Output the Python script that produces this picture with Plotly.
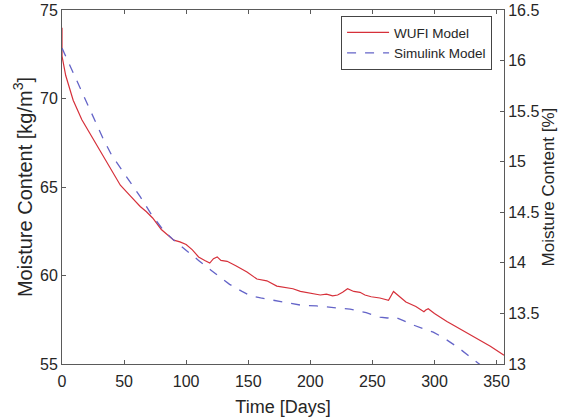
import plotly.graph_objects as go

# WUFI model (kg/m3)
wufi_days = [0, 0.01, 3, 9, 16, 24, 32, 40, 47, 55, 63, 68, 73, 80, 85, 90, 95, 100, 105, 110,
             115, 119, 122, 125, 128, 133, 140, 149, 157, 165, 173, 180, 186, 192, 200, 208,
             213, 218, 222, 226, 230, 235, 240, 244, 249, 256, 263, 265, 267, 272, 277, 285,
             291.5, 293, 295, 300, 305, 310, 315, 320, 328, 336.5, 345, 356]
wufi_vals = [74, 72.4, 71.3, 69.9, 68.8, 67.84, 66.9, 66.0, 65.1, 64.5, 63.9, 63.6, 63.25, 62.6,
             62.3, 62.0, 61.9, 61.75, 61.45, 61.05, 60.85, 60.7, 60.95, 61.05, 60.85, 60.8,
             60.55, 60.2, 59.8, 59.7, 59.4, 59.3, 59.25, 59.1, 59.0, 58.9, 58.95, 58.85, 58.9,
             59.05, 59.25, 59.1, 59.05, 58.9, 58.8, 58.73, 58.6, 58.85, 59.1, 58.8, 58.5, 58.25,
             57.95, 58.05, 58.12, 57.85, 57.6, 57.4, 57.2, 57.0, 56.7, 56.35, 56.0, 55.5]

# Simulink model (kg/m3)
sim_days = [0, 8, 17, 25, 33, 40, 47, 55, 63, 72, 81.5, 90, 97.6, 103, 110, 120, 128, 135, 145,
            152, 160, 170, 180, 192, 205, 218, 232, 245, 256, 262, 268, 275, 283, 291, 299, 308,
            318.5, 327, 334.5, 345, 356]
sim_vals = [72.85, 71.6, 70.2, 68.9, 67.75, 66.8, 66.1, 65.25, 64.45, 63.45, 62.57, 62.0, 61.55,
            61.27, 60.85, 60.3, 59.85, 59.5, 59.1, 58.85, 58.73, 58.6, 58.45, 58.33, 58.28, 58.2,
            58.1, 57.9, 57.65, 57.6, 57.65, 57.45, 57.2, 57.0, 56.8, 56.45, 55.96, 55.5, 55.1,
            54.5, 53.9]

x_ticks = [0, 50, 100, 150, 200, 250, 300, 350]
left_ticks = [55, 60, 65, 70, 75]
right_ticks = [13, 13.5, 14, 14.5, 15, 15.5, 16, 16.5]

FONT = "Liberation Sans, Arial, sans-serif"
AX = "#5a5a5a"
TXT = "#262626"

fig = go.Figure()
fig.add_trace(go.Scatter(x=wufi_days, y=wufi_vals, mode="lines", name="WUFI Model",
                         line=dict(color="#d6303a", width=1.2)))
fig.add_trace(go.Scatter(x=sim_days, y=sim_vals, mode="lines", name="Simulink Model",
                         line=dict(color="#6464c8", width=1.3, dash="dash")))
# invisible trace to activate right axis
fig.add_trace(go.Scatter(x=[0], y=[13], yaxis="y2", mode="lines", showlegend=False,
                         hoverinfo="skip", line=dict(width=0)))

fig.update_layout(
    width=573, height=419,
    margin=dict(l=62, r=69, t=10, b=55),
    paper_bgcolor="white", plot_bgcolor="white",
    font=dict(family=FONT, color=TXT, size=16),
    showlegend=True,
    legend=dict(x=0.973, y=0.983, xanchor="right", yanchor="top",
                bgcolor="white", bordercolor="#444444", borderwidth=1,
                font=dict(size=13.5, color=TXT), tracegroupgap=0,
                itemwidth=42),
    xaxis=dict(range=[0, 356], tickvals=x_ticks, showline=True, linecolor=AX, linewidth=1,
               mirror="ticks", ticks="inside", ticklen=4, tickcolor=AX, showgrid=False,
               zeroline=False, tickfont=dict(size=16, color=TXT), automargin=False,
               ticklabelstandoff=3, ticklabeloverflow="allow",
               title=dict(text="Time [Days]", font=dict(size=18, color=TXT), standoff=11)),
    yaxis=dict(range=[55, 75], tickvals=left_ticks, showline=True, linecolor=AX, linewidth=1,
               ticks="inside", ticklen=4, tickcolor=AX, showgrid=False, zeroline=False,
               tickfont=dict(size=16, color=TXT), automargin=False,
               ticklabeloverflow="allow",
               title=dict(text="Moisture Content [kg/m<sup>3</sup>]",
                          font=dict(size=20, color=TXT), standoff=2)),
    yaxis2=dict(range=[13, 16.5], tickvals=right_ticks, overlaying="y", side="right",
                showline=True, linecolor=AX, linewidth=1, ticks="inside", ticklen=4,
                tickcolor=AX, showgrid=False, zeroline=False, automargin=False,
                tickfont=dict(size=16, color=TXT), ticklabeloverflow="allow",
                title=dict(text="Moisture Content [%]", font=dict(size=17, color=TXT),
                           standoff=0)),
)

fig.write_html("out.html", config={"displayModeBar": False},
               post_script="document.body.style.margin='0';")
